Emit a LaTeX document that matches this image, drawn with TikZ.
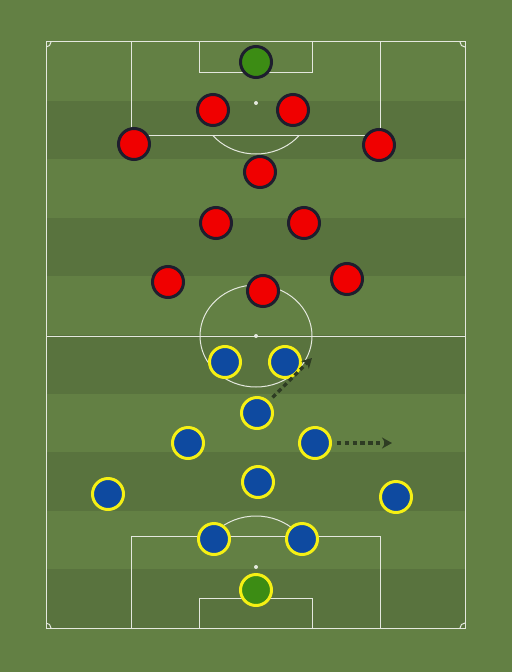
\documentclass[tikz,border=0pt]{standalone}
\usepackage{xcolor}
\usepackage{tikz}
\usetikzlibrary{arrows.meta, shadows}
\definecolor{pitchlight}{RGB}{99,128,68}
\definecolor{pitchdark}{RGB}{89,115,62}
\definecolor{linewhite}{RGB}{228,232,222}
\definecolor{homered}{RGB}{240,0,0}
\definecolor{homeedge}{RGB}{30,30,46}
\definecolor{awayblue}{RGB}{14,74,160}
\definecolor{awayedge}{RGB}{245,240,20}
\definecolor{keepergreen}{RGB}{60,140,20}
\definecolor{runcolor}{RGB}{46,60,35}

\tikzset{
  pitchline/.style={draw=linewhite, line width=0.05cm},
  homeplayer/.style={circle, draw=homeedge, line width=0.15cm, fill=homered,
    minimum size=1.55cm, inner sep=0pt,
    drop shadow={opacity=0.2, shadow xshift=0.6pt, shadow yshift=-0.6pt}},
  homekeeper/.style={homeplayer, fill=keepergreen},
  awayplayer/.style={homeplayer, draw=awayedge, fill=awayblue},
  awaykeeper/.style={awayplayer, fill=keepergreen},
  runarrow/.style={draw=runcolor, line width=0.16cm, dash pattern=on 0.22cm off 0.17cm,
    -{Stealth[length=0.5cm, width=0.55cm]}, shorten <=0.25cm}
}

\begin{document}
\begin{tikzpicture}[x=0.05cm, y=-0.05cm]
% Background
\fill[pitchlight] (0,0) rectangle (512,672);
\useasboundingbox (0,0) rectangle (512,672);

% Stripes
\fill[pitchdark] (46,100.6) rectangle (465,159.2);
\fill[pitchdark] (46,217.8) rectangle (465,276.4);
\fill[pitchdark] (46,335) rectangle (465,393.6);
\fill[pitchdark] (46,452.2) rectangle (465,510.8);
\fill[pitchdark] (46,569.4) rectangle (465,628);

% Outline and halfway
\draw[pitchline] (46,42) rectangle (465,628);
\draw[pitchline] (46,336) -- (465,336);
\draw[pitchline] (256,336) ellipse [x radius=56, y radius=51];
\fill[linewhite] (256,336) circle [radius=2];
\begin{scope}
\clip (46,42) rectangle (465,628);
\draw[pitchline] (46,42) circle [radius=5];
\draw[pitchline] (465,42) circle [radius=5];
\draw[pitchline] (46,628) circle [radius=5];
\draw[pitchline] (465,628) circle [radius=5];
\end{scope}

% Top half
\draw[pitchline] (131,42) rectangle (380,135);
\draw[pitchline] (199,42) rectangle (312,73);
\fill[linewhite] (256,103) circle [radius=2];
\begin{scope}
\clip (46,135) rectangle (465,336);
\draw[pitchline] (256,103) ellipse [x radius=56, y radius=51];
\end{scope}

% Bottom half
\draw[pitchline] (131,536) rectangle (380,628);
\draw[pitchline] (199,598) rectangle (312,628);
\fill[linewhite] (256,567) circle [radius=2];
\begin{scope}
\clip (46,336) rectangle (465,536);
\draw[pitchline] (256,567) ellipse [x radius=56, y radius=51];
\end{scope}

% Red team
\node[homekeeper] (rgk) at (256,62) {};
\node[homeplayer] (rcb1) at (213,110) {};
\node[homeplayer] (rcb2) at (293,110) {};
\node[homeplayer] (rlb) at (134,144) {};
\node[homeplayer] (rrb) at (379,145) {};
\node[homeplayer] (rdm) at (260,172) {};
\node[homeplayer] (rcm1) at (216,223) {};
\node[homeplayer] (rcm2) at (304,223) {};
\node[homeplayer] (rlw) at (168,282) {};
\node[homeplayer] (rst) at (263,291) {};
\node[homeplayer] (rrw) at (347,279) {};

% Blue team
\node[awaykeeper] (bgk) at (256,590) {};
\node[awayplayer] (bcb1) at (214,539) {};
\node[awayplayer] (bcb2) at (302,539) {};
\node[awayplayer] (blb) at (108,494) {};
\node[awayplayer] (brb) at (396,497) {};
\node[awayplayer] (bdm) at (258,482) {};
\node[awayplayer] (blm) at (188,443) {};
\node[awayplayer] (brm) at (315,443) {};
\node[awayplayer] (bam) at (257,413) {};
\node[awayplayer] (bst1) at (225,362) {};
\node[awayplayer] (bst2) at (285,362) {};

% Runs
\coordinate (run1) at (312,358);
\coordinate (run2) at (392,443);
\draw[runarrow] (bam) -- (run1);
\draw[runarrow] (brm) -- (run2);
\end{tikzpicture}
\end{document}
